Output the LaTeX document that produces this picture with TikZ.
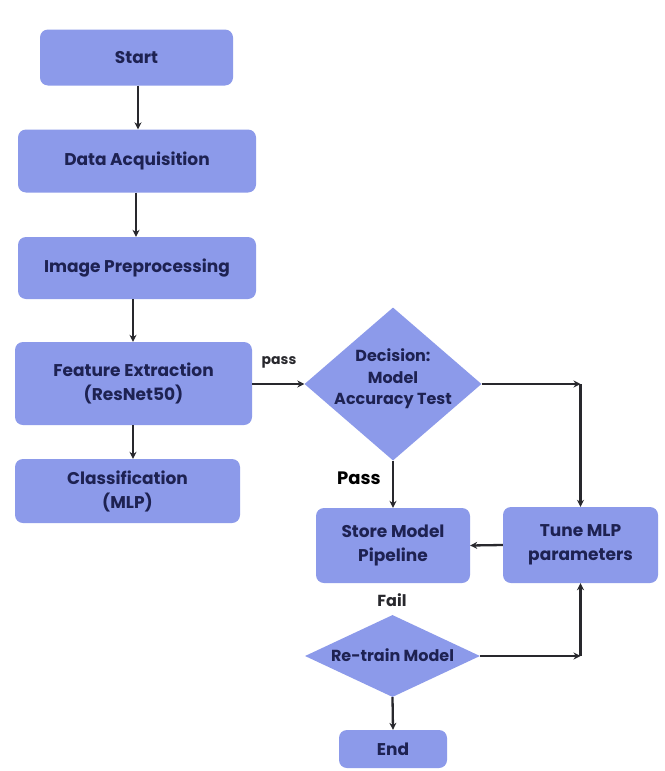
\documentclass[tikz,border=0pt]{standalone}
\usepackage{fontspec}
\setmainfont{Poppins}
\usetikzlibrary{shapes.geometric,arrows.meta}
\definecolor{boxfill}{RGB}{140,154,234}
\definecolor{boxtext}{RGB}{30,34,82}
\definecolor{linecol}{RGB}{40,40,45}
\tikzset{
  box/.style={draw=none, fill=boxfill, rounded corners=8pt, inner sep=0pt,
    align=center, text=boxtext, font=\fontsize{17}{24}\selectfont\bfseries},
  dia/.style={draw=none, fill=boxfill, diamond, inner sep=0pt},
  diatext/.style={align=center, text=boxtext, inner sep=0pt,
    font=\fontsize{16}{21.5}\selectfont\bfseries},
  flow/.style={draw=linecol, line width=2.3pt, -{Stealth[length=7pt,width=7pt]}},
  lbl/.style={text=linecol, inner sep=0pt}
}
\begin{document}
\begin{tikzpicture}[x=1pt,y=-1pt]
\useasboundingbox (0,0) rectangle (664,771);
\fill[white] (0,0) rectangle (664,771);

% main pipeline
\node[box, minimum width=193pt, minimum height=56pt] (start) at (136.5,57.5) {Start};
\node[box, minimum width=238pt, minimum height=63pt] (acq) at (137,161) {Data Acquisition};
\node[box, minimum width=238pt, minimum height=62pt] (prep) at (137,268) {Image Preprocessing};
\node[box, minimum width=237pt, minimum height=83pt] (feat) at (133.5,383.5) {Feature Extraction\\(ResNet50)};
\node[box, minimum width=225pt, minimum height=64pt] (cls) at (127.5,491) {Classification\\(MLP)};

% decision branch
\node[dia, minimum width=177pt, minimum height=153pt] (dec) at (393,384) {};
\node[diatext] (dect) at (393,379) {Decision:\\Model\\Accuracy Test};
\node[box, minimum width=154pt, minimum height=75pt] (store) at (393,545.5) {Store Model\\Pipeline};
\node[box, minimum width=155pt, minimum height=76pt] (tune) at (580.5,545) {Tune MLP\\parameters};
\node[dia, minimum width=175pt, minimum height=82pt] (retrain) at (392.5,656) {};
\node[diatext] (rtt) at (392.5,655) {Re-train Model};
\node[box, minimum width=108pt, minimum height=38pt] (end) at (393,749) {End};

\coordinate (c1) at (tune.north |- dec.east);
\coordinate (c2) at (tune.south |- retrain.east);

% connectors
\draw[flow] (start.south -| 138,0) -- (acq.north -| 138,0);
\draw[flow] (acq.south -| 136,0) -- (prep.north -| 136,0);
\draw[flow] (prep.south -| 133,0) -- (feat.north -| 133,0);
\draw[flow] (feat.south -| 133,0) -- (cls.north -| 133,0);
\draw[flow] (feat.east |- dec.west) -- (dec.west);
\draw[flow] (dec.east) -- (c1);
\draw[flow] (c1) -- (tune.north);
\draw[flow] (dec.south) -- (store.north);
\draw[flow] (tune.west) -- (store.east);
\draw[flow] (retrain.east) -- (c2);
\draw[flow] (c2) -- (tune.south);
\draw[flow] (retrain.south) -- (end.north);

% branch labels
\node[lbl, font=\fontsize{14}{16}\selectfont\bfseries] (passlbl) at (279,362) {pass};
\node[lbl, font=\fontsize{18}{20}\selectfont\bfseries, text=black] (Passlbl) at (359,478) {Pass};
\node[lbl, font=\fontsize{16}{18}\selectfont\bfseries] (faillbl) at (392,600) {Fail};
\end{tikzpicture}
\end{document}
